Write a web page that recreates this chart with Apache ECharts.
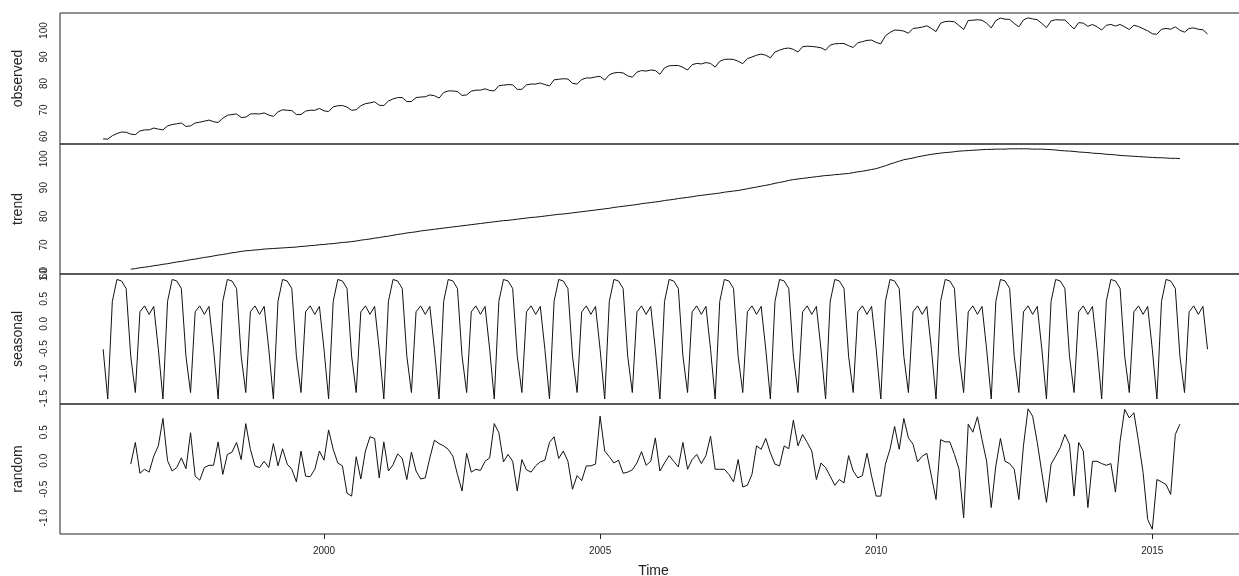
<!DOCTYPE html>
<html><head><meta charset="utf-8">
<script src="https://cdn.jsdelivr.net/npm/echarts@6/dist/echarts.min.js"></script>
<style>html,body{margin:0;padding:0;background:#fff}#c{width:1239px;height:576px}</style>
</head><body><div id="c"></div>
<script>
// Monthly series (frequency 12). Observed/seasonal start Jan 1996; trend/random start Jul 1996.
const observedStart = 1996;
const componentStart = 1996.5;
const frequency = 12;

const observed = [
59.1,59.0,60.3,61.1,61.7,61.6,60.9,60.7,62.1,62.5,62.5,63.2,
62.8,62.5,64.0,64.5,64.8,65.1,63.8,64.0,65.1,65.4,65.8,66.2,
65.6,65.3,66.9,68.0,68.3,68.5,67.2,67.3,68.5,68.6,68.5,68.9,
68.1,67.6,69.3,70.1,69.9,69.8,68.3,68.3,69.6,69.9,69.9,70.6,
69.7,69.4,71.2,71.6,71.7,71.1,69.9,70.1,71.6,72.4,72.7,73.1,
71.8,71.7,73.4,74.2,74.7,74.7,73.2,73.2,74.7,74.9,75.0,75.7,
75.4,74.5,76.6,77.2,77.2,77.0,75.5,75.7,77.1,77.5,77.5,78.0,
77.4,77.2,79.2,79.4,79.6,79.5,77.8,77.8,79.5,79.8,79.8,80.2,
79.6,79.1,81.4,81.6,81.8,81.7,80.1,79.8,81.5,82.1,82.1,82.5,
82.7,81.3,83.3,84.0,84.2,84.0,82.9,82.4,84.3,84.9,84.7,85.1,
84.9,83.5,85.9,86.7,86.8,86.8,86.1,85.1,87.1,87.6,87.4,87.9,
87.6,86.2,88.4,89.1,89.2,89.1,88.4,87.5,89.4,90.0,90.7,91.1,
90.7,89.7,91.9,92.6,93.2,93.4,92.9,91.9,93.9,94.1,94.0,93.8,
93.5,92.6,94.5,95.0,95.1,95.1,94.3,93.6,95.4,95.8,96.3,96.4,
95.5,95.0,98.0,99.3,100.2,100.1,99.8,99.0,100.8,101.0,101.3,101.8,
100.8,99.6,102.8,103.4,103.5,103.3,101.9,100.4,103.8,103.9,104.1,103.9,
102.8,101.0,103.8,104.7,104.3,104.2,102.7,101.4,104.0,104.8,104.4,104.1,
102.7,101.1,103.6,104.1,104.0,104.0,102.3,100.6,103.0,102.8,101.6,102.3,
101.4,100.2,102.0,102.3,101.7,102.3,101.4,100.4,102.0,101.5,100.7,99.9,
98.8,98.6,100.5,100.8,100.5,101.4,100.1,99.4,100.8,101.0,100.5,100.3,
98.7
];

const trend = [
61.6,61.8,62.1,62.3,62.5,62.8, 63.0,63.3,63.5,63.8,64.1,64.3,
64.6,64.9,65.1,65.4,65.7,65.9, 66.2,66.5,66.7,67.0,67.3,67.5,
67.8,68.0,68.1,68.3,68.4,68.6, 68.7,68.8,68.9,69.0,69.1,69.2,
69.3,69.5,69.6,69.8,69.9,70.1, 70.2,70.4,70.5,70.7,70.9,71.0,
71.2,71.4,71.7,71.9,72.1,72.4, 72.6,72.9,73.1,73.4,73.7,73.9,
74.2,74.4,74.6,74.9,75.1,75.3, 75.5,75.7,75.9,76.1,76.3,76.5,
76.7,76.9,77.1,77.3,77.5,77.7, 77.9,78.1,78.3,78.5,78.6,78.8,
79.0,79.2,79.4,79.6,79.7,79.9, 80.1,80.3,80.5,80.7,80.8,81.0,
81.2,81.4,81.6,81.8,82.0,82.2, 82.4,82.6,82.8,83.1,83.3,83.5,
83.7,83.9,84.1,84.4,84.6,84.8, 85.0,85.2,85.5,85.7,85.9,86.2,
86.4,86.6,86.8,87.1,87.3,87.5, 87.7,87.9,88.1,88.4,88.6,88.8,
89.0,89.3,89.6,89.9,90.2,90.5, 90.8,91.1,91.5,91.8,92.1,92.5,
92.8,93.0,93.2,93.4,93.6,93.8, 94.0,94.2,94.3,94.5,94.6,94.8,
94.9,95.2,95.5,95.7,96.0,96.3, 96.6,97.1,97.6,98.2,98.7,99.2,
99.7,100.0,100.3,100.7,101.0,101.3, 101.6,101.8,102.0,102.2,102.3,102.5,
102.7,102.8,102.9,103.0,103.1,103.2, 103.3,103.3,103.4,103.4,103.4,103.5,
103.5,103.5,103.5,103.5,103.4,103.4, 103.4,103.3,103.2,103.1,102.9,102.8,
102.7,102.6,102.4,102.3,102.2,102.0, 101.9,101.8,101.6,101.5,101.4,101.2,
101.1,101.0,100.9,100.8,100.7,100.6, 100.5,100.4,100.4,100.3,100.2,100.2,
100.1
];

const seasonal = [
-0.51,-1.51,0.45,0.89,0.86,0.71,-0.65,-1.38,0.24,0.36,0.19,0.35,
-0.51,-1.51,0.45,0.89,0.86,0.71,-0.65,-1.38,0.24,0.36,0.19,0.35,
-0.51,-1.51,0.45,0.89,0.86,0.71,-0.65,-1.38,0.24,0.36,0.19,0.35,
-0.51,-1.51,0.45,0.89,0.86,0.71,-0.65,-1.38,0.24,0.36,0.19,0.35,
-0.51,-1.51,0.45,0.89,0.86,0.71,-0.65,-1.38,0.24,0.36,0.19,0.35,
-0.51,-1.51,0.45,0.89,0.86,0.71,-0.65,-1.38,0.24,0.36,0.19,0.35,
-0.51,-1.51,0.45,0.89,0.86,0.71,-0.65,-1.38,0.24,0.36,0.19,0.35,
-0.51,-1.51,0.45,0.89,0.86,0.71,-0.65,-1.38,0.24,0.36,0.19,0.35,
-0.51,-1.51,0.45,0.89,0.86,0.71,-0.65,-1.38,0.24,0.36,0.19,0.35,
-0.51,-1.51,0.45,0.89,0.86,0.71,-0.65,-1.38,0.24,0.36,0.19,0.35,
-0.51,-1.51,0.45,0.89,0.86,0.71,-0.65,-1.38,0.24,0.36,0.19,0.35,
-0.51,-1.51,0.45,0.89,0.86,0.71,-0.65,-1.38,0.24,0.36,0.19,0.35,
-0.51,-1.51,0.45,0.89,0.86,0.71,-0.65,-1.38,0.24,0.36,0.19,0.35,
-0.51,-1.51,0.45,0.89,0.86,0.71,-0.65,-1.38,0.24,0.36,0.19,0.35,
-0.51,-1.51,0.45,0.89,0.86,0.71,-0.65,-1.38,0.24,0.36,0.19,0.35,
-0.51,-1.51,0.45,0.89,0.86,0.71,-0.65,-1.38,0.24,0.36,0.19,0.35,
-0.51,-1.51,0.45,0.89,0.86,0.71,-0.65,-1.38,0.24,0.36,0.19,0.35,
-0.51,-1.51,0.45,0.89,0.86,0.71,-0.65,-1.38,0.24,0.36,0.19,0.35,
-0.51,-1.51,0.45,0.89,0.86,0.71,-0.65,-1.38,0.24,0.36,0.19,0.35,
-0.51,-1.51,0.45,0.89,0.86,0.71,-0.65,-1.38,0.24,0.36,0.19,0.35,
-0.51
];

const random = [
-0.06,0.32,-0.22,-0.15,-0.20,0.08, 0.26,0.74,0.00,-0.18,-0.12,0.05,
-0.14,0.49,-0.27,-0.34,-0.12,-0.08, -0.08,0.33,-0.24,0.11,0.15,0.32,
0.02,0.65,0.20,-0.09,-0.12,-0.01, -0.12,0.30,-0.09,0.21,-0.06,-0.15,
-0.37,0.17,-0.27,-0.28,-0.15,0.17, 0.01,0.54,0.20,-0.04,-0.09,-0.57,
-0.62,0.07,-0.32,0.17,0.42,0.39, -0.30,0.33,-0.18,-0.07,0.12,0.04,
-0.33,0.15,-0.18,-0.32,-0.30,0.05, 0.36,0.30,0.26,0.20,0.08,-0.24,
-0.53,0.13,-0.20,-0.15,-0.17,-0.01, 0.05,0.65,0.49,-0.02,0.11,-0.01,
-0.53,0.02,-0.16,-0.20,-0.09,-0.02, 0.01,0.32,0.42,0.04,0.17,-0.01,
-0.50,-0.26,-0.35,-0.09,-0.09,-0.06, 0.78,0.17,0.07,-0.04,0.01,-0.22,
-0.20,-0.16,-0.04,0.16,-0.08,-0.01, 0.40,-0.18,-0.04,0.09,-0.01,-0.11,
0.32,-0.15,0.02,0.11,-0.05,0.09, 0.43,-0.15,-0.15,-0.15,-0.24,-0.37,
0.02,-0.46,-0.43,-0.24,0.26,0.20, 0.39,0.14,-0.06,-0.09,0.26,0.21,
0.71,0.26,0.46,0.32,0.17,-0.33, -0.04,-0.12,-0.27,-0.43,-0.33,-0.39,
0.09,-0.18,-0.30,-0.26,0.13,-0.27, -0.62,-0.62,-0.06,0.20,0.60,0.20,
0.74,0.40,0.29,-0.02,0.08,0.13, -0.27,-0.68,0.37,0.33,0.33,0.11,
-0.15,-1.00,0.64,0.50,0.77,0.37, -0.01,-0.82,-0.09,0.39,-0.01,-0.05,
-0.15,-0.68,0.26,0.91,0.78,0.32, -0.21,-0.73,-0.06,0.08,0.23,0.46,
0.29,-0.62,0.32,0.17,-0.82,-0.01, -0.01,-0.05,-0.08,-0.05,-0.55,0.34,
0.90,0.75,0.84,0.34,-0.21,-1.03, -1.20,-0.33,-0.37,-0.42,-0.59,0.46,
0.64
];

const xTicks = [2000, 2005, 2010, 2015];
const observedTicks = [60, 70, 80, 90, 100];
const trendTicks = [60, 70, 80, 90, 100];
const seasonalTicks = [-1.5, -1.0, -0.5, 0.0, 0.5, 1.0];
const randomTicks = [-1.0, -0.5, 0.0, 0.5];
const panelNames = ['observed', 'trend', 'seasonal', 'random'];
const xTitle = 'Time';

function toPairs(values, start) {
  return values.map((v, i) => [start + i / frequency, v]);
}

const FONT = '"Liberation Sans", Arial, Helvetica, sans-serif';
const INK = '#222';
const panels = [
  { data: toPairs(observed, observedStart), ticks: observedTicks, min: 57.17, max: 106.63, fmt: v => String(v) },
  { data: toPairs(trend, componentStart), ticks: trendTicks, min: 59.92, max: 105.18, fmt: v => String(v) },
  { data: toPairs(seasonal, observedStart), ticks: seasonalTicks, min: -1.61, max: 1.0, fmt: v => v.toFixed(1) },
  { data: toPairs(random, componentStart), ticks: randomTicks, min: -1.284, max: 0.994, fmt: v => v.toFixed(1) }
];
const tops = [13, 144, 274, 404];
const heights = [131, 130, 130, 130];
const X_MIN = 1995.219, X_MAX = 2016.715;

const option = {
  animation: false,
  backgroundColor: '#fff',
  textStyle: { fontFamily: FONT },
  grid: panels.map((p, i) => ({
    left: 60, width: 1187, top: tops[i], height: heights[i],
    outerBoundsMode: 'none', containLabel: false,
    show: true, borderColor: INK, borderWidth: 1, backgroundColor: 'transparent'
  })),
  xAxis: panels.map((p, i) => {
    const last = i === panels.length - 1;
    return {
      type: 'value', gridIndex: i, min: X_MIN, max: X_MAX, position: 'bottom',
      splitLine: { show: false },
      axisLine: { show: false, onZero: false },
      axisTick: last ? { show: true, customValues: xTicks, length: 5, lineStyle: { color: INK, width: 1 } } : { show: false },
      axisLabel: last ? { show: true, customValues: xTicks, margin: 12, fontSize: 10, color: INK, fontFamily: FONT, formatter: v => String(v) } : { show: false },
      name: last ? xTitle : '',
      nameLocation: 'middle', nameGap: 30,
      nameTextStyle: { fontSize: 14, color: INK, fontFamily: FONT }
    };
  }),
  yAxis: panels.map((p, i) => ({
    type: 'value', gridIndex: i, min: p.min, max: p.max,
    splitLine: { show: false },
    axisLine: { show: false, onZero: false },
    axisTick: { show: false },
    axisLabel: {
      customValues: p.ticks, rotate: 90, margin: 11, fontSize: 10, color: INK, fontFamily: FONT,
      showMinLabel: true, showMaxLabel: true, formatter: p.fmt
    },
    name: panelNames[i], nameLocation: 'middle', nameRotate: 90, nameGap: 35,
    nameTextStyle: { fontSize: 14, color: INK, fontFamily: FONT }
  })),
  series: panels.map((p, i) => ({
    type: 'line', xAxisIndex: i, yAxisIndex: i, data: p.data,
    showSymbol: false, symbol: 'none', smooth: false,
    lineStyle: { color: '#111', width: 1 }
  }))
};

const chart = echarts.init(document.getElementById('c'), null, { renderer: 'canvas' });
chart.setOption(option);
</script>
</body></html>
